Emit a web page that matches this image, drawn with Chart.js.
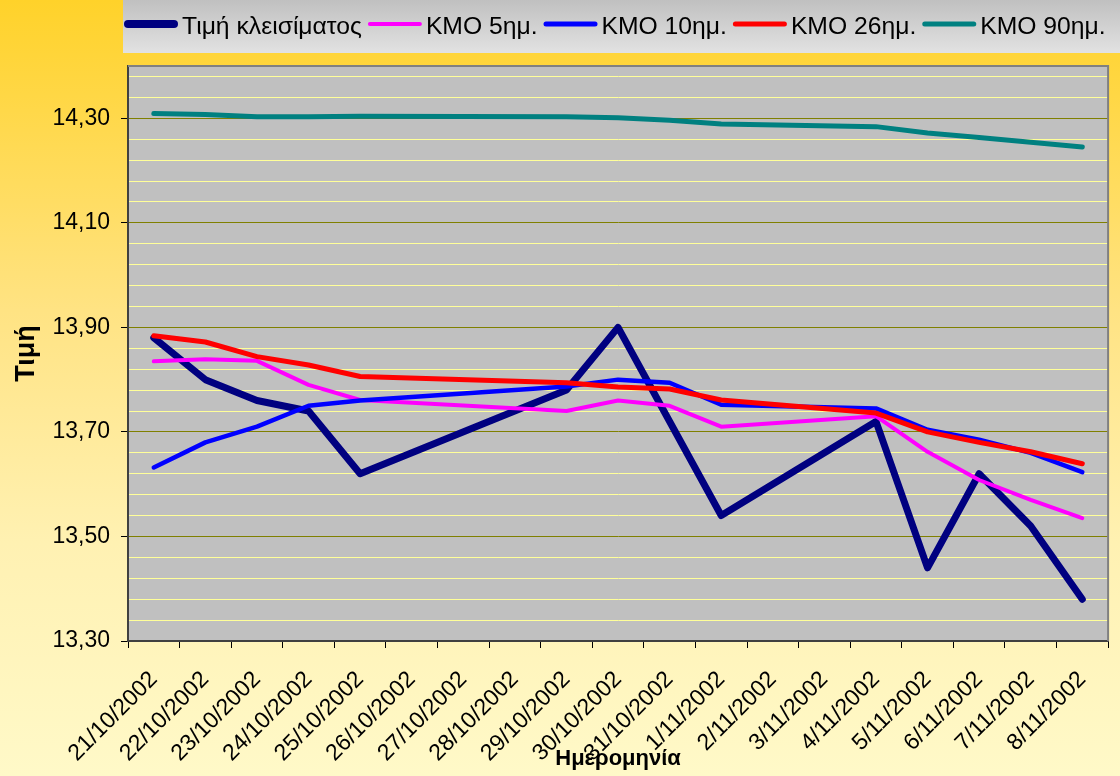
<!DOCTYPE html>
<html><head><meta charset="utf-8">
<script src="https://cdn.jsdelivr.net/npm/chart.js@4/dist/chart.umd.min.js"></script>
<style>html,body{margin:0;padding:0;background:#fff}#wrap{width:1120px;height:776px}</style>
</head><body><div id="wrap"><canvas id="c" width="1120" height="776"></canvas></div>
<script>
const categories = ['21/10/2002','22/10/2002','23/10/2002','24/10/2002','25/10/2002','26/10/2002','27/10/2002','28/10/2002','29/10/2002','30/10/2002','31/10/2002','1/11/2002','2/11/2002','3/11/2002','4/11/2002','5/11/2002','6/11/2002','7/11/2002','8/11/2002'];
const closePrice = [13.88,13.80,13.76,13.74,13.62,null,null,null,13.78,13.90,13.72,13.54,null,null,13.72,13.44,13.62,13.52,13.38];
const ma5  = [13.835,13.839,13.836,13.79,13.761,null,null,null,13.74,13.76,13.75,13.71,null,null,13.73,13.662,13.608,13.57,13.535];
const ma10 = [13.632,13.68,13.71,13.75,13.76,null,null,null,13.787,13.80,13.794,13.752,null,null,13.745,13.704,13.685,13.66,13.623];
const ma26 = [13.884,13.872,13.844,13.828,13.806,null,null,null,13.794,13.786,13.782,13.761,null,null,13.736,13.70,13.68,13.662,13.639];
const ma90 = [14.309,14.307,14.303,14.303,14.304,null,null,null,14.303,14.301,14.296,14.289,null,null,14.284,14.272,14.263,14.254,14.245];
const seriesNames = ['Τιμή κλεισίματος','ΚΜΟ 5ημ.','ΚΜΟ 10ημ.','ΚΜΟ 26ημ.','ΚΜΟ 90ημ.'];
const yMin = 13.30, yMax = 14.40, yMinorStep = 0.04, yMajorStep = 0.20;
const yTickLabels = ['13,30','13,50','13,70','13,90','14,10','14,30'];
const xTitle = 'Ημερομηνία', yTitle = 'Τιμή';

const FONT = '"Liberation Sans", Arial, sans-serif';
const colors = ['#000080','#FF00FF','#0000FF','#FF0000','#008080'];
const widths = [7,4,4.5,5,5];
const legendWidths = [8,4,5,5,5];

function isMajor(v){ return Math.round(Math.round((v - yMin)*100)) % Math.round(yMajorStep*100) === 0; }

const deco = {
  id:'deco',
  beforeDraw(chart){
    const {ctx,width,height,chartArea:a} = chart;
    ctx.save();
    const g = ctx.createLinearGradient(0,0,0,height);
    g.addColorStop(0,'#FFD22A');
    g.addColorStop(0.12,'#FFD744');
    g.addColorStop(0.4,'#FFE383');
    g.addColorStop(0.7,'#FFF1B2');
    g.addColorStop(1,'#FFF9C8');
    ctx.fillStyle = g; ctx.fillRect(0,0,width,height);
    ctx.fillStyle = '#C0C0C0';
    ctx.fillRect(a.left,a.top,a.right-a.left,a.bottom-a.top);
    ctx.restore();
  },
  afterDatasetsDraw(chart){
    const {ctx,chartArea:a} = chart;
    ctx.save();
    ctx.strokeStyle = '#808080'; ctx.lineWidth = 2;
    ctx.beginPath();
    ctx.moveTo(a.left, a.top); ctx.lineTo(a.right, a.top); ctx.lineTo(a.right, a.bottom);
    ctx.stroke();
    ctx.restore();
  },
  afterDraw(chart){
    const {ctx} = chart;
    ctx.save();
    const g = ctx.createLinearGradient(0,0,0,53);
    g.addColorStop(0,'#C0C0C0'); g.addColorStop(1,'#E2E2E2');
    ctx.fillStyle = g; ctx.fillRect(123,0,1120-123,53);
    ctx.font = '24.7px ' + FONT;
    ctx.textBaseline = 'middle'; ctx.textAlign = 'left';
    let x = 124;
    chart.data.datasets.forEach((ds,i)=>{
      const lw = legendWidths[i];
      ctx.strokeStyle = ds.borderColor; ctx.lineWidth = lw; ctx.lineCap = 'round';
      ctx.beginPath(); ctx.moveTo(x+lw/2, 24); ctx.lineTo(x+54-lw/2, 24); ctx.stroke();
      ctx.fillStyle = '#000';
      ctx.fillText(ds.label, x+58, 27);
      x += 58 + ctx.measureText(ds.label).width + 6;
    });
    ctx.restore();
  }
};

const seriesData = [closePrice, ma5, ma10, ma26, ma90];
new Chart(document.getElementById('c'), {
  type:'line',
  data:{
    labels: categories,
    datasets: seriesData.map((d,i)=>({
      label: seriesNames[i], data: d, borderColor: colors[i], backgroundColor: colors[i],
      borderWidth: widths[i], pointRadius:0, tension:0, spanGaps:true,
      borderCapStyle:'round', borderJoinStyle:'round', order: 5-i, fill:false
    }))
  },
  options:{
    responsive:false, animation:false, devicePixelRatio:1,
    layout:{padding:{top:66,right:7,left:0,bottom:0}},
    plugins:{legend:{display:false}, tooltip:{enabled:false}},
    scales:{
      x:{
        type:'category', offset:true,
        grid:{offset:true, drawOnChartArea:false, drawTicks:true, tickLength:7, tickColor:'#000', tickWidth:1},
        border:{display:true, color:'#404040', width:2},
        ticks:{autoSkip:false, maxRotation:45, minRotation:45, padding:18, color:'#000', font:{family:FONT, size:23}},
        title:{display:true, text:xTitle, color:'#000', font:{family:FONT, size:22, weight:'bold'}, padding:{top:0,bottom:4}},
        afterFit(s){ s.height = 135; }
      },
      y:{
        min:yMin, max:yMax,
        afterBuildTicks(s){
          const t = [];
          const n = Math.round((yMax - yMin)/yMinorStep);
          for (let i=0;i<=n;i++) t.push({value: Math.round((yMin + i*yMinorStep)*100)/100});
          if (t[t.length-1].value < yMax) t.push({value:yMax});
          s.ticks = t;
        },
        grid:{
          color: c => (c.tick && c.tick.value >= yMax - 1e-9) ? 'rgba(0,0,0,0)' : (c.tick && isMajor(c.tick.value) ? '#808000' : '#FFFF99'),
          lineWidth:1, drawTicks:true, tickLength:7,
          tickColor: c => (c.tick && isMajor(c.tick.value) && c.tick.value < yMax - 1e-9) ? '#000' : 'rgba(0,0,0,0)'
        },
        border:{display:true, color:'#404040', width:2},
        ticks:{
          autoSkip:false, padding:11, color:'#000', font:{family:FONT, size:23},
          callback:(v)=>{ if (v >= yMax - 1e-9 || !isMajor(v)) return ''; return yTickLabels[Math.round((v - yMin)/yMajorStep)]; }
        },
        title:{display:true, text:yTitle, color:'#000', font:{family:FONT, size:27, weight:'bold'}, padding:{top:10,bottom:0}},
        afterFit(s){ s.width = 128; }
      }
    }
  },
  plugins:[deco]
});
</script></body></html>
